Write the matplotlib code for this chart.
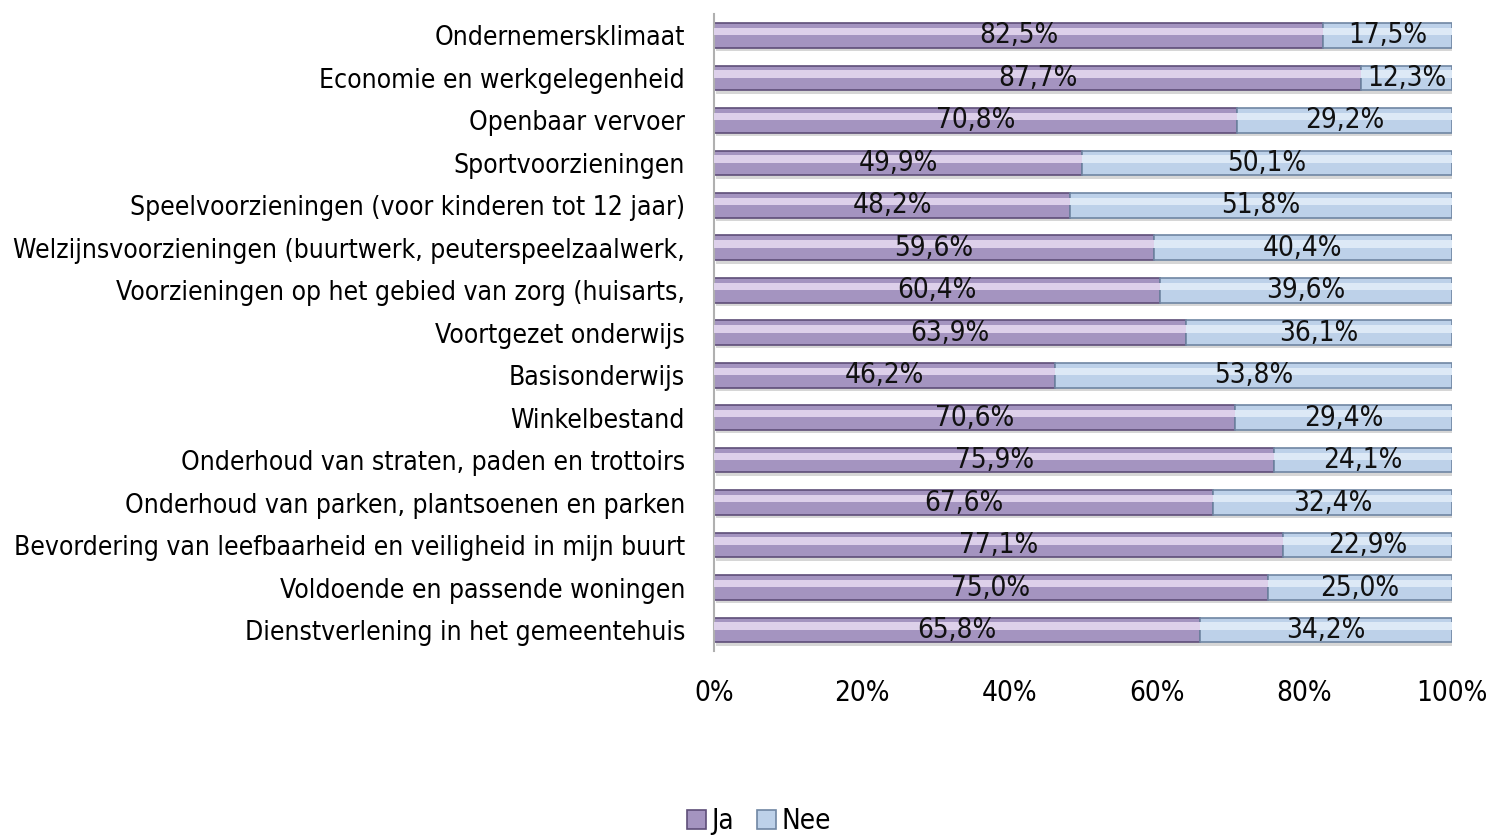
import matplotlib
matplotlib.use("Agg")
import matplotlib.pyplot as plt
import numpy as np
from matplotlib import font_manager

categories = [
    "Ondernemersklimaat",
    "Economie en werkgelegenheid",
    "Openbaar vervoer",
    "Sportvoorzieningen",
    "Speelvoorzieningen (voor kinderen tot 12 jaar)",
    "Welzijnsvoorzieningen (buurtwerk, peuterspeelzaalwerk,",
    "Voorzieningen op het gebied van zorg (huisarts,",
    "Voortgezet onderwijs",
    "Basisonderwijs",
    "Winkelbestand",
    "Onderhoud van straten, paden en trottoirs",
    "Onderhoud van parken, plantsoenen en parken",
    "Bevordering van leefbaarheid en veiligheid in mijn buurt",
    "Voldoende en passende woningen",
    "Dienstverlening in het gemeentehuis",
]
ja = [82.5, 87.7, 70.8, 49.9, 48.2, 59.6, 60.4, 63.9, 46.2, 70.6, 75.9, 67.6, 77.1, 75.0, 65.8]
nee = [17.5, 12.3, 29.2, 50.1, 51.8, 40.4, 39.6, 36.1, 53.8, 29.4, 24.1, 32.4, 22.9, 25.0, 34.2]
ticks = [0, 20, 40, 60, 80, 100]

names = {f.name for f in font_manager.fontManager.ttflist}
fam = "Liberation Sans Narrow" if "Liberation Sans Narrow" in names else "DejaVu Sans"
plt.rcParams["font.family"] = [fam, "DejaVu Sans"]
plt.rcParams["font.stretch"] = "condensed"

fig = plt.figure(figsize=(14.88, 8.35), dpi=100)
ax = fig.add_axes([0.48, 0.22, 0.4958, 0.763])

y = np.arange(len(categories))
h = 0.58
purple = "#a494c0"
blue = "#bdd1e9"

# shadow
ax.barh(y + 0.08, ja, left=0.3, height=h, color="#d6d6d6", zorder=1)
ax.barh(y + 0.08, nee, left=np.array(ja) + 0.3, height=h, color="#d6d6d6", zorder=1)

b1 = ax.barh(y, ja, height=h, color=purple, edgecolor="#5e4e78", linewidth=1.2, label="Ja", zorder=2)
b2 = ax.barh(y, nee, left=ja, height=h, color=blue, edgecolor="#6f86a3", linewidth=1.2, label="Nee", zorder=2)

# soft highlight on upper half of bars
ax.barh(y - h * 0.16, ja, height=h * 0.3, color="#ddd0ea", zorder=3, linewidth=0)
ax.barh(y - h * 0.16, nee, left=ja, height=h * 0.3, color="#dde9f6", zorder=3, linewidth=0)

for i in range(len(categories)):
    ax.text(ja[i] / 2, y[i], f"{ja[i]:.1f}%".replace(".", ","), ha="center", va="center",
            fontsize=20, color="#111111", zorder=4)
    ax.text(ja[i] + nee[i] / 2, y[i], f"{nee[i]:.1f}%".replace(".", ","), ha="center", va="center",
            fontsize=20, color="#111111", zorder=4)

ax.set_xlim(0, 100)
ax.set_ylim(len(categories) - 0.5, -0.5)
ax.set_yticks(y)
ax.set_yticklabels(categories, fontsize=19)
ax.set_xticks(ticks)
ax.set_xticklabels([f"{t}%" for t in ticks], fontsize=20)
ax.tick_params(axis="both", length=0)
ax.tick_params(axis="y", pad=21)
ax.tick_params(axis="x", pad=20)
for s in ["top", "right", "bottom"]:
    ax.spines[s].set_visible(False)
ax.spines["left"].set_color("#b0b0b0")
ax.spines["left"].set_linewidth(1.5)

fig.legend(handles=[b1, b2], loc="lower center", bbox_to_anchor=(0.51, -0.03), ncol=2,
           frameon=False, fontsize=20, handlelength=0.7, handleheight=0.7,
           handletextpad=0.2, columnspacing=0.8)

fig.savefig("out.png", dpi=100)
